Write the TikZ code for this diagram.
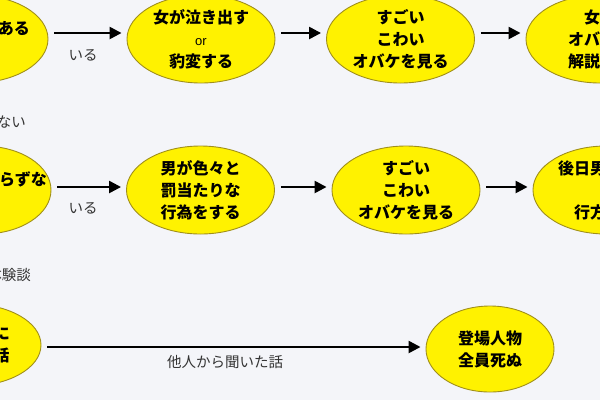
\documentclass[tikz,border=0pt]{standalone}
\usepackage{fontspec}
\newfontfamily\jp{Noto Sans CJK JP}
\newfontfamily\lat{Liberation Sans}
\usetikzlibrary{shapes.geometric,arrows.meta}
\definecolor{bg}{HTML}{F4F5F9}
\definecolor{ylw}{HTML}{FFF200}
\definecolor{olv}{HTML}{A08F1A}
\definecolor{lbl}{HTML}{333333}
\tikzset{
 ell/.style={ellipse, draw=olv, line width=0.9pt, fill=ylw, minimum width=148pt, minimum height=88pt, inner sep=0pt, align=center, font=\jp\bfseries\fontsize{16}{22}\selectfont, text=black},
 arr/.style={line width=2.4pt, -{Triangle[length=12pt,width=12pt]}, shorten <=6pt, shorten >=5pt},
 lab/.style={font=\jp\fontsize{14.5}{17}\selectfont, text=lbl, inner sep=0pt},
 hdr/.style={font=\jp\fontsize{14.5}{17}\selectfont, text=lbl, inner sep=0pt, anchor=east},
}
\newcommand\orword{{\lat\mdseries\fontsize{13}{14}\selectfont or}}
\begin{document}
\begin{tikzpicture}[x=1pt,y=-1pt]
\useasboundingbox (0,0) rectangle (600,400);
\fill[bg] (0,0) rectangle (600,400);
\clip (0,0) rectangle (600,400);
% row 1
\node[ell, inner xsep=-8pt] (a1) at (-26,39) {暗い過去がある\\女が};
\node[ell] (a2) at (201,39) {女が泣き出す\\\orword\\豹変する};
\node[ell] (a3) at (400.5,39) {すごい\\こわい\\オバケを見る};
\node[ell] (a4) at (600,39) {女が\\オバケの\\解説する};
\draw[arr] ([yshift=6pt]a1.east) -- ([yshift=6pt]a2.west);
\draw[arr] ([yshift=6pt]a2.east) -- ([yshift=6pt]a3.west);
\draw[arr] ([yshift=6pt]a3.east) -- ([yshift=6pt]a4.west);
\node[lab] (l1) at (83,55) {いる};
% row 2
\node[hdr] (h2) at (26,122) {救いがない};
\node[ell, inner xsep=-16pt, minimum width=136pt] (b1) at (-17,190) {怖いもの知らずな\\男が};
\node[ell] (b2) at (200.5,190) {男が色々と\\罰当たりな\\行為をする};
\node[ell] (b3) at (406,190) {すごい\\こわい\\オバケを見る};
\node[ell, minimum width=146pt] (b4) at (606,190) {後日男が死ぬ\\\orword\\行方不明};
\draw[arr] ([yshift=3pt]b1.east) -- ([yshift=3pt]b2.west);
\draw[arr] ([yshift=3pt]b2.east) -- ([yshift=3pt]b3.west);
\draw[arr] ([yshift=3pt]b3.east) -- ([yshift=3pt]b4.west);
\node[lab] (l2) at (83,208) {いる};
% row 3
\node[hdr] (h3) at (31,275) {体験談};
\node[ell, minimum width=142pt, minimum height=82pt] (c1) at (-30,345) {自分の身に\\起こった話};
\node[ell, minimum width=128pt, minimum height=86pt] (c2) at (490,349) {登場人物\\全員死ぬ};
\draw[arr] ([yshift=-2pt]c1.east) -- ([yshift=2pt]c2.west);
\node[lab] (l3) at (225,362) {他人から聞いた話};
\end{tikzpicture}
\end{document}
